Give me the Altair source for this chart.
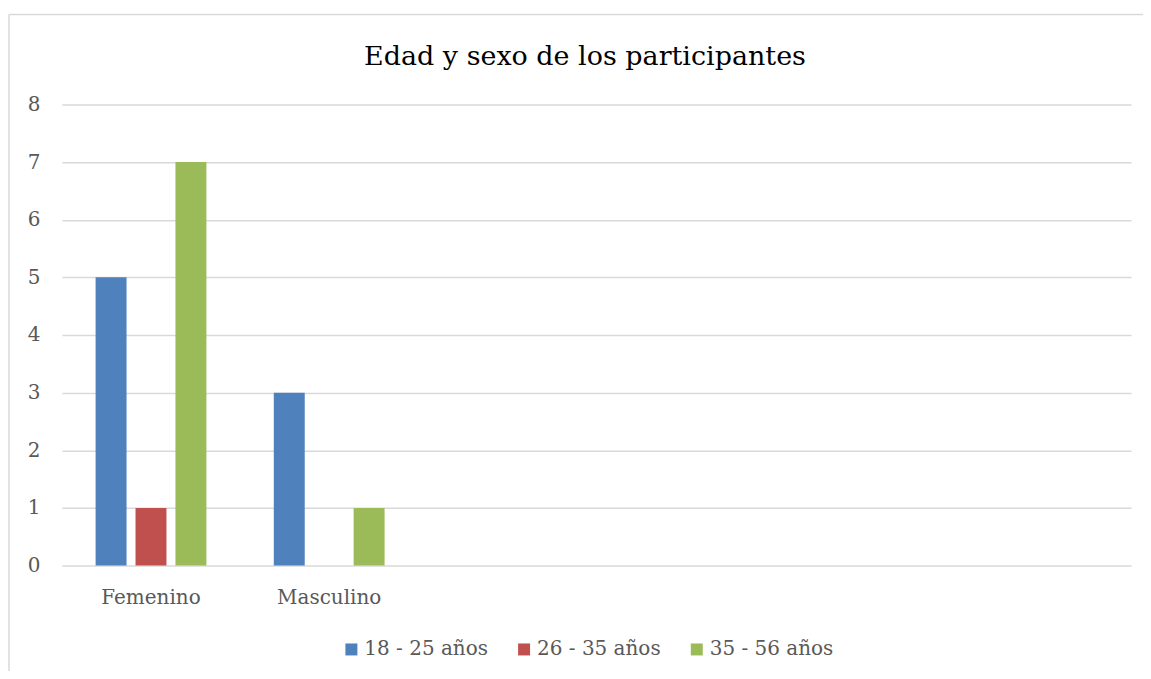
import altair as alt
import pandas as pd

title_text = "Edad y sexo de los participantes"
categories = ["Femenino", "Masculino"]
empty_slots = ["_3", "_4", "_5", "_6"]
series = ["18 - 25 años", "26 - 35 años", "35 - 56 años"]
v_18_25 = [5, 3]
v_26_35 = [1, 0]
v_35_56 = [7, 1]
colors = ["#4F81BD", "#C0504D", "#9BBB59"]

rows = []
for s, vals in zip(series, [v_18_25, v_26_35, v_35_56]):
    for c, v in zip(categories, vals):
        rows.append({"sexo": c, "edad": s, "n": v})
df = pd.DataFrame(rows)

FONT = "DejaVu Serif"
GRAY = "#595959"

bars = alt.Chart(df).mark_bar().encode(
    x=alt.X(
        "sexo:N",
        sort=categories + empty_slots,
        scale=alt.Scale(domain=categories + empty_slots, paddingInner=0, paddingOuter=0),
        axis=alt.Axis(
            title=None, labelAngle=0, ticks=False, domain=False, grid=False,
            labelPadding=22, labelFontSize=20, labelColor=GRAY, labelFont=FONT,
            labelExpr="indexof(['Femenino','Masculino'], datum.value) >= 0 ? datum.value : ''",
        ),
    ),
    xOffset=alt.XOffset(
        "edad:N",
        scale=alt.Scale(domain=series, paddingInner=0.225, paddingOuter=0.844),
    ),
    y=alt.Y(
        "n:Q",
        scale=alt.Scale(domain=[0, 8]),
        axis=alt.Axis(
            title=None, values=list(range(9)), ticks=False, domain=False,
            labelPadding=22, labelFontSize=20, labelColor=GRAY, labelFont=FONT,
            gridColor="#d9d9d9", gridWidth=1.5,
        ),
    ),
    color=alt.Color(
        "edad:N",
        scale=alt.Scale(domain=series, range=colors),
        legend=alt.Legend(
            title=None, orient="none", legendX=280, legendY=536,
            direction="horizontal", symbolType="square", symbolSize=144,
            symbolStrokeWidth=0, labelFontSize=20, labelFont=FONT,
            labelColor=GRAY, columnPadding=26, labelOffset=3,
        ),
    ),
)

one = pd.DataFrame({"t": [title_text]})

border_top = alt.Chart(one).mark_rule(color="#d9d9d9", strokeWidth=1.5).encode(
    x=alt.value(-53), x2=alt.value(1120), y=alt.value(-90)
)
border_left = alt.Chart(one).mark_rule(color="#d9d9d9", strokeWidth=1.5).encode(
    x=alt.value(-53), y=alt.value(-90), y2=alt.value(640)
)

title = alt.Chart(one).mark_text(
    font=FONT, fontSize=27, color="#000000", align="center", baseline="alphabetic"
).encode(
    text="t:N", x=alt.value(524), y=alt.value(-39)
)

chart = alt.layer(border_top, border_left, bars, title).properties(
    width=1071,
    height=462,
    background="white",
    autosize=alt.AutoSizeParams(type="none"),
    padding={"left": 54, "top": 96, "right": 12, "bottom": 105},
).configure_view(stroke="transparent", strokeWidth=0)

chart.save("out.html", embed_options={"renderer": "svg", "actions": False})
